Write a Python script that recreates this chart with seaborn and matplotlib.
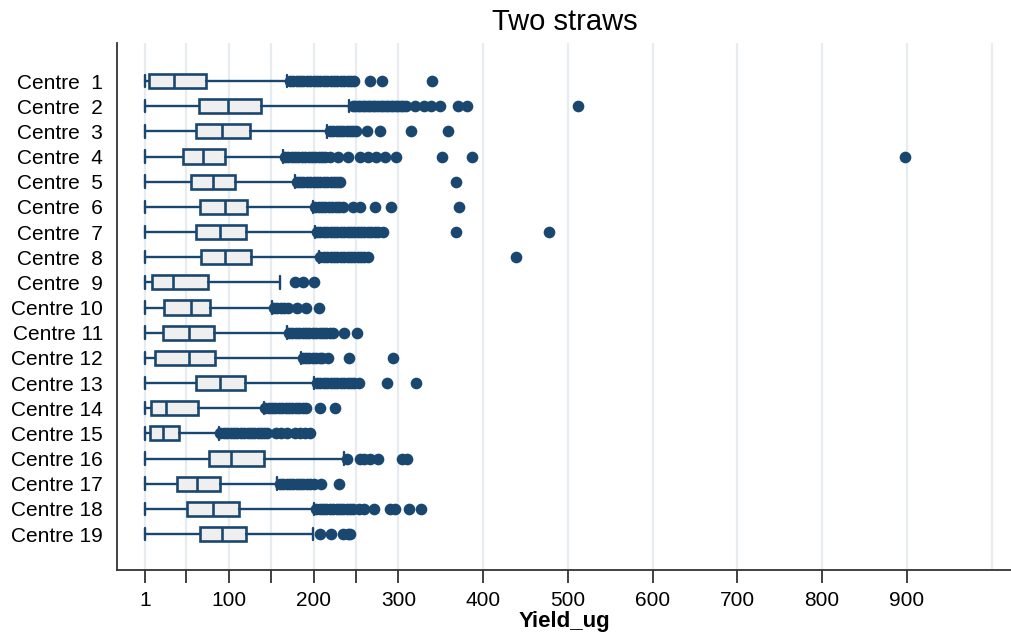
import matplotlib
matplotlib.use("Agg")
import matplotlib.pyplot as plt
import numpy as np
import pandas as pd
import seaborn as sns

# ---------------- data ----------------
centres = ["Centre  1", "Centre  2", "Centre  3", "Centre  4", "Centre  5",
           "Centre  6", "Centre  7", "Centre  8", "Centre  9", "Centre 10",
           "Centre 11", "Centre 12", "Centre 13", "Centre 14", "Centre 15",
           "Centre 16", "Centre 17", "Centre 18", "Centre 19"]

whisker_low = [1, 1, 1, 1, 1, 1, 1, 1, 1, 1, 1, 1, 1, 1, 1, 1, 1, 1, 1]
q1 = [6, 65, 61, 46, 55, 66, 61, 67, 9, 24, 22, 13, 61, 8, 7, 77, 39, 51, 66]
median = [35, 99, 92, 70, 81, 95, 90, 95, 34, 55, 53, 53, 90, 26, 22, 103, 62, 81, 92]
q3 = [73, 138, 125, 95, 107, 121, 120, 126, 75, 78, 82, 84, 119, 63, 41, 141, 89, 112, 120]
whisker_high = [169, 242, 216, 164, 178, 199, 202, 206, 160, 151, 169, 185, 201, 141, 88, 236, 157, 200, 199]

outliers = {
    "Centre  1": [172, 176, 180, 184, 188, 192, 196, 200, 204, 208, 212, 216, 220, 224,
                  228, 232, 236, 240, 244, 248, 266, 281, 340],
    "Centre  2": [246, 249, 252, 255, 258, 261, 264, 267, 270, 273, 276, 279, 282, 285,
                  288, 291, 294, 297, 300, 303, 306, 309, 320, 330, 339, 349, 370, 381, 512],
    "Centre  3": [219, 223, 227, 231, 235, 239, 243, 247, 250, 263, 278, 315, 358],
    "Centre  4": [166, 170, 174, 178, 182, 186, 190, 194, 198, 202, 206, 210, 214, 219,
                  229, 240, 255, 264, 274, 284, 297, 352, 387, 898],
    "Centre  5": [180, 184, 188, 192, 196, 200, 204, 208, 212, 216, 220, 224, 228, 231, 368],
    "Centre  6": [202, 206, 210, 214, 218, 222, 226, 230, 235, 247, 255, 272, 291, 372],
    "Centre  7": [204, 208, 212, 216, 220, 224, 228, 232, 236, 240, 244, 248, 252, 256,
                  260, 264, 268, 272, 276, 282, 368, 478],
    "Centre  8": [208, 212, 216, 220, 224, 228, 232, 236, 240, 244, 248, 252, 256, 260, 264, 439],
    "Centre  9": [178, 188, 200],
    "Centre 10": [153, 157, 161, 165, 170, 180, 191, 206],
    "Centre 11": [171, 175, 179, 183, 187, 191, 195, 199, 203, 207, 211, 215, 219, 223, 236, 251],
    "Centre 12": [187, 191, 195, 199, 203, 207, 210, 217, 242, 294],
    "Centre 13": [204, 208, 212, 216, 220, 224, 228, 232, 236, 240, 244, 248, 253, 287, 321],
    "Centre 14": [143, 147, 151, 155, 159, 163, 167, 171, 175, 179, 183, 187, 191, 207, 225],
    "Centre 15": [90, 94, 98, 102, 106, 110, 114, 118, 122, 126, 130, 134, 138, 142, 145,
                  156, 162, 168, 178, 184, 190, 196],
    "Centre 16": [239, 255, 260, 266, 276, 304, 310],
    "Centre 17": [160, 164, 168, 172, 176, 180, 184, 188, 192, 196, 200, 209, 230],
    "Centre 18": [203, 207, 211, 215, 219, 223, 227, 231, 235, 239, 243, 247, 253, 259,
                  271, 290, 296, 312, 327],
    "Centre 19": [208, 221, 235, 240, 243],
}

title = "Two straws"
x_label = "Yield_ug"
major_ticks = [1, 100, 200, 300, 400, 500, 600, 700, 800, 900]
minor_ticks = [50, 150, 250]

# ---------------- style ----------------
navy = "#1a476f"
box_fill = "#efefef"
grid_col = "#e6ecf0"

sns.set_style("white")
plt.rcParams["font.family"] = ["Liberation Sans", "DejaVu Sans"]
plt.rcParams["text.color"] = "black"
plt.rcParams["axes.labelcolor"] = "black"
plt.rcParams["xtick.color"] = "black"
plt.rcParams["ytick.color"] = "black"

fig = plt.figure(figsize=(10.12, 6.34), dpi=100)
ax = fig.add_axes([117 / 1012, 1 - 570 / 634, 1 - 117 / 1012, (570 - 43) / 634])

# boxes from summary statistics
stats = []
for i, c in enumerate(centres):
    stats.append(dict(label=c, med=median[i], q1=q1[i], q3=q3[i],
                      whislo=whisker_low[i], whishi=whisker_high[i], fliers=[]))

ax.bxp(stats, positions=np.arange(len(centres)), orientation="horizontal",
       widths=0.56, capwidths=0.5, patch_artist=True, showfliers=False,
       manage_ticks=False,
       boxprops=dict(facecolor=box_fill, edgecolor=navy, linewidth=1.9),
       medianprops=dict(color=navy, linewidth=1.9),
       whiskerprops=dict(color=navy, linewidth=1.7),
       capprops=dict(color=navy, linewidth=1.7), zorder=3)

# outliers with seaborn
rows = []
for c in centres:
    for v in outliers[c]:
        rows.append({"Centre": c, x_label: v})
df_out = pd.DataFrame(rows)
sns.stripplot(data=df_out, x=x_label, y="Centre", order=centres, jitter=False,
              color=navy, size=8.4, linewidth=0, ax=ax, zorder=4)

# axes
ax.set_xlim(-32, 1024)
ax.set_ylim(len(centres) - 1 + 1.43, -1.51)
ax.set_yticks(np.arange(len(centres)))
ax.set_yticklabels(centres)
ax.set_xticks(major_ticks)
ax.set_xticklabels([str(t) for t in major_ticks])
ax.set_xticks(minor_ticks, minor=True)

ax.grid(False)
for v in major_ticks + minor_ticks + [1000]:
    ax.axvline(v, color=grid_col, linewidth=1.6, zorder=0)

for s in ["top", "right"]:
    ax.spines[s].set_visible(False)
for s in ["left", "bottom"]:
    ax.spines[s].set_color("#333333")
    ax.spines[s].set_linewidth(1.3)

ax.tick_params(axis="x", which="both", direction="out", length=9, width=1.3,
               color="#333333", labelcolor="black", labelsize=15, pad=6, bottom=True)
ax.tick_params(axis="y", length=0, labelsize=15, labelcolor="black", pad=10, left=False)

ax.set_title(title, fontsize=21, pad=9, color="black")
ax.set_xlabel(x_label, fontsize=16, fontweight="bold", labelpad=1, color="black")
ax.set_ylabel("")

fig.savefig("out.png", dpi=100)
